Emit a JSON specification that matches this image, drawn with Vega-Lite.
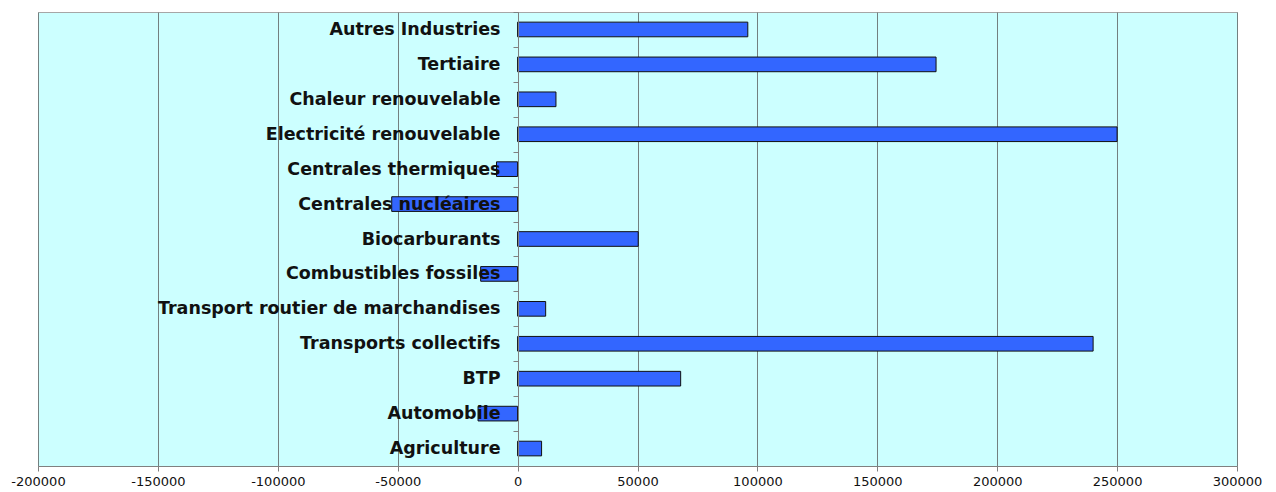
{
  "$schema": "https://vega.github.io/schema/vega-lite/v6.json",
  "width": 1199,
  "height": 454,
  "autosize": {"type": "none"},
  "padding": {"left": 38, "top": 12, "right": 39, "bottom": 26},
  "background": "white",
  "config": {
    "view": {"fill": "#CCFFFF", "stroke": "#A6A6A6", "strokeWidth": 1},
    "font": "DejaVu Sans"
  },
  "data": {
    "values": [
      {"secteur": "Autres Industries", "valeur": 96000},
      {"secteur": "Tertiaire", "valeur": 174500},
      {"secteur": "Chaleur renouvelable", "valeur": 16000},
      {"secteur": "Electricité  renouvelable", "valeur": 250000},
      {"secteur": "Centrales thermiques", "valeur": -8800},
      {"secteur": "Centrales nucléaires", "valeur": -52500},
      {"secteur": "Biocarburants", "valeur": 50300},
      {"secteur": "Combustibles fossiles", "valeur": -15400},
      {"secteur": "Transport routier de marchandises", "valeur": 11700},
      {"secteur": "Transports collectifs", "valeur": 240000},
      {"secteur": "BTP", "valeur": 68000},
      {"secteur": "Automobile", "valeur": -16500},
      {"secteur": "Agriculture", "valeur": 10000}
    ]
  },
  "mark": {"type": "bar", "color": "#3366FF", "stroke": "#111111", "strokeWidth": 1, "height": {"band": 0.42}},
  "encoding": {
    "y": {
      "field": "secteur",
      "type": "nominal",
      "sort": null,
      "scale": {"paddingInner": 0, "paddingOuter": 0},
      "axis": {
        "title": null,
        "orient": "left",
        "offset": -480,
        "zindex": 1,
        "domainColor": "#808080",
        "tickColor": "#808080",
        "tickSize": 5,
        "tickBand": "extent",
        "labelFont": "DejaVu Sans",
        "labelFontSize": 17.5,
        "labelFontWeight": "bold",
        "labelColor": "#111111",
        "labelPadding": 13,
        "labelLimit": 600
      }
    },
    "x": {
      "field": "valeur",
      "type": "quantitative",
      "scale": {"domain": [-200000, 300000], "nice": false, "zero": false},
      "axis": {
        "title": null,
        "values": [-200000, -150000, -100000, -50000, 0, 50000, 100000, 150000, 200000, 250000, 300000],
        "labelExpr": "'' + datum.value",
        "grid": true,
        "gridColor": "#738080",
        "gridOpacity": 1,
        "domainColor": "#808080",
        "tickColor": "#808080",
        "tickSize": 5,
        "labelFont": "DejaVu Sans",
        "labelFontSize": 13,
        "labelColor": "#111111",
        "labelPadding": 4,
        "labelFlush": false,
        "labelOverlap": false
      }
    }
  }
}
